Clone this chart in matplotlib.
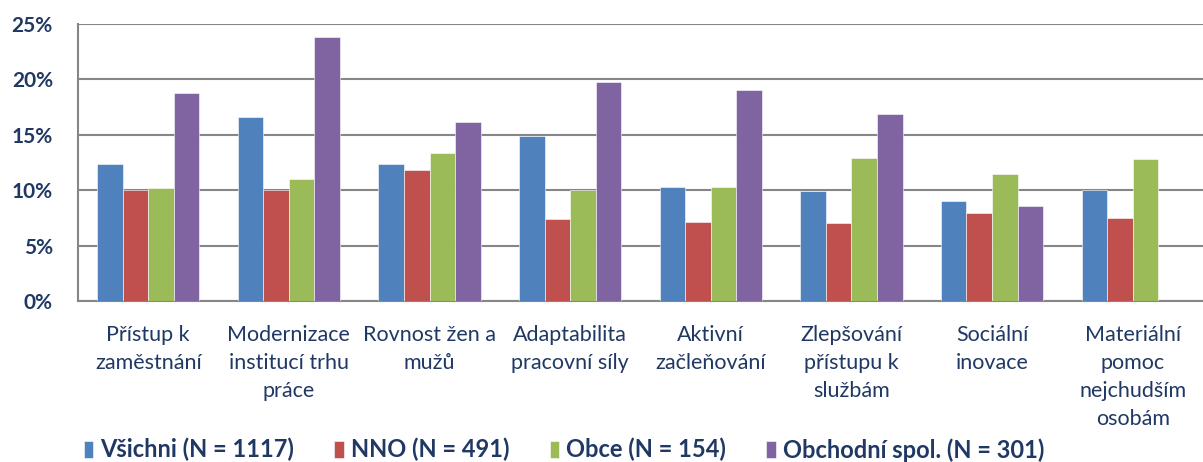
import matplotlib.pyplot as plt
import numpy as np

categories = ["Přístup k\nzaměstnání", "Modernizace\ninstitucí trhu\npráce",
              "Rovnost žen a\nmužů", "Adaptabilita\npracovní síly",
              "Aktivní\nzačleňování", "Zlepšování\npřístupu k\nslužbám",
              "Sociální\ninovace", "Materiální\npomoc\nnejchudším\nosobám"]
series_names = ["Všichni (N = 1117)", "NNO (N = 491)", "Obce (N = 154)",
                "Obchodní spol. (N = 301)"]
vsichni = [12.4, 16.6, 12.4, 14.9, 10.3, 9.9, 9.0, 10.0]
nno = [10.0, 10.0, 11.8, 7.4, 7.1, 7.0, 7.9, 7.5]
obce = [10.2, 11.0, 13.4, 10.0, 10.3, 12.9, 11.5, 12.8]
obchodni = [18.8, 23.8, 16.2, 19.8, 19.0, 16.9, 8.6, np.nan]
yticks = [0, 5, 10, 15, 20, 25]

colors = ["#4F81BD", "#C0504D", "#9BBB59", "#8064A2"]
text_col = "#1F3864"
plt.rcParams['font.family'] = ['Lato', 'DejaVu Sans']

fig = plt.figure(figsize=(12.03, 4.62), dpi=100)
ax = fig.add_axes([0.0648, 0.3485, 0.9352, 0.5995])

x = np.arange(len(categories))
w = 1 / 5.5
for i, (vals, name) in enumerate(zip([vsichni, nno, obce, obchodni], series_names)):
    ax.bar(x + (i - 1.5) * w, vals, w, color=colors[i], label=name,
           edgecolor="white", linewidth=0.4, zorder=3)

ax.set_xlim(-0.5, len(categories) - 0.5)
ax.set_ylim(0, 25)
ax.set_yticks(yticks)
ax.set_yticklabels([f"{t}%" for t in yticks], fontsize=15, fontweight="bold",
                   color=text_col)
ax.set_xticks(x)
ax.set_xticklabels(categories, fontsize=15.5, color=text_col, linespacing=1.5,
                   va="top")
ax.tick_params(axis="x", length=0, pad=17)
ax.tick_params(axis="y", length=0, pad=18)
ax.grid(axis="y", color="#868686", linewidth=1.5, zorder=0)
for s in ["top", "right"]:
    ax.spines[s].set_visible(False)
for s in ["left", "bottom"]:
    ax.spines[s].set_color("#868686")
    ax.spines[s].set_linewidth(1.5)

leg = fig.legend(loc="lower left", bbox_to_anchor=(0.052, -0.045), ncol=4,
                 frameon=False, handlelength=0.4, handleheight=0.75,
                 handletextpad=0.3, columnspacing=1.7,
                 prop={"size": 17, "weight": "bold"})
for t in leg.get_texts():
    t.set_color(text_col)

fig.savefig("out.png", dpi=100)
